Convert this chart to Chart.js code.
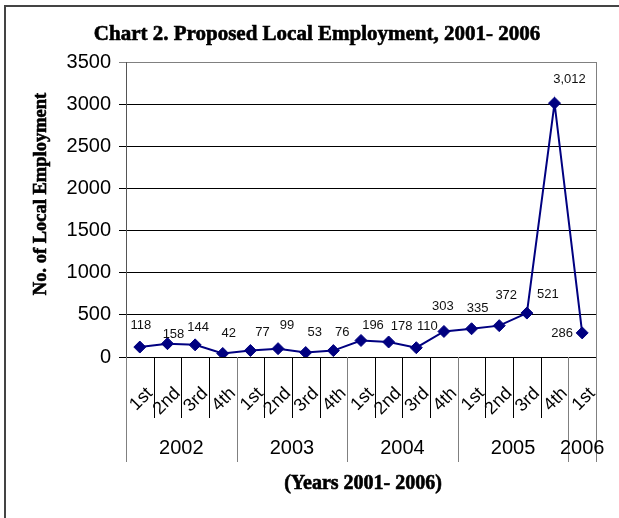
<!DOCTYPE html>
<html>
<head>
<meta charset="utf-8">
<script src="https://cdn.jsdelivr.net/npm/chart.js@4.4.0/dist/chart.umd.min.js"></script>
<style>
html, body { margin: 0; padding: 0; background: #fff; }
#wrap { width: 619px; height: 518px; position: relative; }
</style>
</head>
<body>
<div id="wrap"><canvas id="myChart"></canvas></div>
<script>
// quarters along the x axis, grouped by year
const quarters = ["1st","2nd","3rd","4th","1st","2nd","3rd","4th","1st","2nd","3rd","4th","1st","2nd","3rd","4th","1st"];
const years = ["2002","2003","2004","2005","2006"];
const quartersPerYear = [4,4,4,4,1];
const employment = [118,158,144,42,77,99,53,76,196,178,110,303,335,372,521,3012,286];

// y axis range
const yMin = 0, yMax = 3500, yStep = 500;

const chartTitle = "Chart 2. Proposed Local Employment, 2001- 2006";
const xTitle = "(Years 2001- 2006)";
const yTitle = "No. of Local Employment";

// where each value label sits relative to its point (dx, dy), like the hand-moved excel labels
const labelNudge = [[1,-22],[6,-9],[3,-17],[6,-20],[12,-18],[9,-23],[9,-20],[9,-18],[12,-15],[13,-16],[11,-21],[-1,-25],[6,-20],[7,-30],[21,-19],[15,-24],[-20,1]];

const NAVY = "#000080";
const SANS = "'Liberation Sans', Arial, sans-serif";
const SERIF = "'Liberation Serif', 'Times New Roman', serif";

// heavy serif text, a bit like the word-processor rendering
function boldText(c, txt, x, y, size) {
  c.font = "bold " + size + "px " + SERIF;
  c.fillStyle = "#000";
  c.strokeStyle = "#000";
  c.lineWidth = 0.6;
  c.fillText(txt, x, y);
  c.strokeText(txt, x, y);
}

const extras = {
  id: "extras",
  beforeDraw(chart) {
    const c = chart.ctx;
    c.save();
    c.strokeStyle = "#444";
    c.lineWidth = 2;
    c.beginPath();
    c.moveTo(5, 518); c.lineTo(5, 6); c.lineTo(619, 6);
    c.stroke();
    c.restore();
  },
  afterDraw(chart) {
    const c = chart.ctx, a = chart.chartArea, xs = chart.scales.x;
    const w = (a.right - a.left) / quarters.length;
    c.save();
    // right edge of the plot area
    c.strokeStyle = "#808080";
    c.lineWidth = 1;
    c.beginPath();
    c.moveTo(a.right + 0.5, a.top); c.lineTo(a.right + 0.5, a.bottom);
    c.stroke();

    // quarter / year separators under the axis
    const edges = [0];
    quartersPerYear.forEach(n => edges.push(edges[edges.length - 1] + n));
    for (let i = 0; i <= quarters.length; i++) {
      const px = Math.round(xs.getPixelForValue(i) - w / 2) + 0.5;
      const isYear = edges.includes(i);
      c.strokeStyle = isYear ? "#808080" : "#000";
      c.beginPath();
      c.moveTo(px, a.bottom);
      c.lineTo(px, isYear ? a.bottom + 105 : a.bottom + 61);
      c.stroke();
    }
    // year labels
    c.fillStyle = "#000";
    c.font = "20px " + SANS;
    c.textAlign = "center";
    c.textBaseline = "middle";
    years.forEach((yr, k) => {
      const x0 = xs.getPixelForValue(edges[k]) - w / 2;
      const x1 = xs.getPixelForValue(edges[k + 1] - 1) + w / 2;
      c.fillText(yr, (x0 + x1) / 2, a.bottom + 91);
    });

    // titles
    c.textAlign = "center";
    c.textBaseline = "alphabetic";
    boldText(c, chartTitle, 317, 40, 21);
    c.textBaseline = "middle";
    boldText(c, xTitle, 363, 484, 20);
    c.translate(41, 194);
    c.rotate(-Math.PI / 2);
    boldText(c, yTitle, 0, 0, 18.5);
    c.restore();
  },
  afterDatasetsDraw(chart) {
    const c = chart.ctx;
    const pts = chart.getDatasetMeta(0).data;
    c.save();
    c.fillStyle = "#111";
    c.font = "13px " + SANS;
    c.textAlign = "center";
    c.textBaseline = "middle";
    pts.forEach((p, i) => {
      const d = labelNudge[i];
      c.fillText(employment[i].toLocaleString("en-US"), p.x + d[0], p.y + d[1]);
    });
    c.restore();
  }
};

const ctx = document.getElementById("myChart").getContext("2d");
const chart = new Chart(ctx, {
  type: "line",
  data: {
    labels: quarters,
    datasets: [{
      data: employment,
      borderColor: NAVY,
      backgroundColor: NAVY,
      borderWidth: 2,
      pointStyle: "rectRot",
      pointRadius: 6,
      pointBorderWidth: 1,
      pointBackgroundColor: NAVY,
      pointBorderColor: NAVY,
      tension: 0,
      fill: false
    }]
  },
  options: {
    responsive: true,
    maintainAspectRatio: false,
    animation: false,
    layout: { padding: { left: 20, right: 23, top: 62, bottom: 25 } },
    plugins: {
      legend: { display: false },
      tooltip: { enabled: false },
      title: { display: false }
    },
    scales: {
      x: {
        offset: true,
        grid: { display: false },
        border: { display: true, color: "#000", width: 1 },
        ticks: {
          autoSkip: false,
          minRotation: 45,
          maxRotation: 45,
          padding: 18,
          labelOffset: 10,
          color: "#000",
          font: { family: SANS, size: 18 }
        },
        afterFit(s) { s.height = 136; }
      },
      y: {
        min: yMin,
        max: yMax,
        ticks: {
          stepSize: yStep,
          padding: 8,
          color: "#000",
          font: { family: SANS, size: 20 },
          callback: v => String(v)
        },
        grid: {
          color: c => (c.tick && c.tick.value === yMax) ? "#808080" : "#000",
          lineWidth: 1,
          drawTicks: true,
          tickLength: 7
        },
        border: { display: true, color: "#555", width: 1 },
        afterFit(s) { s.width = 106; }
      }
    }
  },
  plugins: [extras]
});
</script>
</body>
</html>
